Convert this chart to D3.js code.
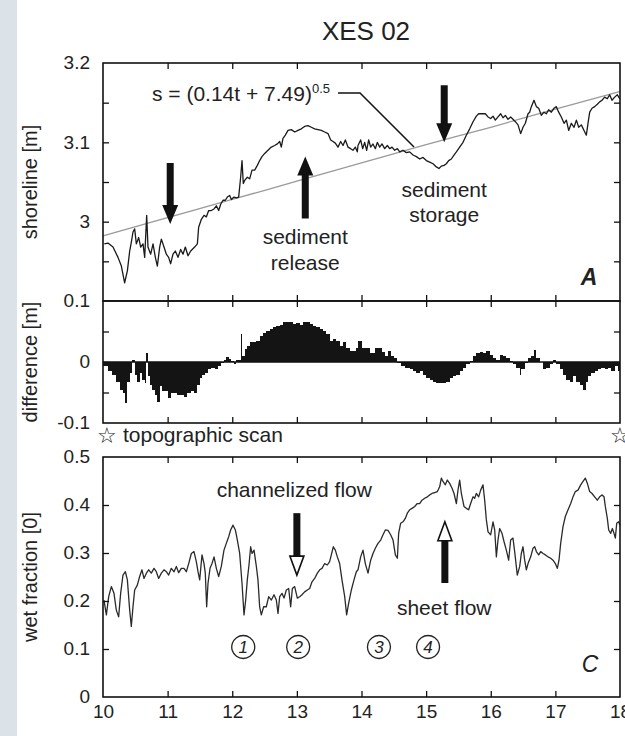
<!DOCTYPE html>
<html><head><meta charset="utf-8">
<script src="https://cdn.jsdelivr.net/npm/d3@7"></script>
<style>
body{margin:0;background:#fff}
svg{display:block}
text{font-family:"Liberation Sans",Arial,Helvetica,sans-serif;fill:#222}
</style>
</head><body>
<svg id="chart" width="625" height="736"></svg>
<script>
// ---------- DATA ----------
const xTickValues = [10,11,12,13,14,15,16,17,18];
const xTickLabels = ["10","11","12","13","14","15","16","17","18"];

const shoreTickValues = [3.2,3.1,3.0];
const shoreTickLabels = ["3.2","3.1","3"];
const shoreMinorTicks = [3.15,3.1,3.05,3.0,2.95];

const diffTickValues = [0.1,0,-0.1];
const diffTickLabels = ["0.1","0","-0.1"];
const diffMinorTicks = [0.05,0,-0.05];

const wetTickValues = [0.5,0.4,0.3,0.2,0.1,0];
const wetTickLabels = ["0.5","0.4","0.3","0.2","0.1","0"];

// shoreline position [m] vs time
const shoreT = [10.02,10.077,10.155,10.232,10.284,10.335,10.377,10.413,10.438,10.464,10.490,10.516,10.552,10.583,10.619,10.645,10.676,10.696,10.738,10.774,10.810,10.841,10.877,10.903,10.944,10.980,11.016,11.047,11.083,11.119,11.161,11.202,11.238,11.274,11.315,11.357,11.418,11.460,11.480,11.522,11.563,11.599,11.635,11.676,11.718,11.754,11.790,11.821,11.857,11.893,11.924,11.960,11.986,12.027,12.063,12.099,12.130,12.151,12.171,12.192,12.233,12.269,12.306,12.347,12.388,12.424,12.460,12.502,12.553,12.605,12.656,12.698,12.734,12.759,12.785,12.821,12.863,12.914,12.966,13.017,13.069,13.120,13.172,13.224,13.275,13.327,13.378,13.430,13.482,13.523,13.559,13.595,13.636,13.678,13.714,13.750,13.791,13.832,13.868,13.904,13.935,
13.946,13.987,14.018,14.049,14.080,14.111,14.142,14.178,14.214,14.245,14.281,14.317,14.359,14.400,14.436,14.472,14.513,14.555,14.591,14.642,14.694,14.745,14.797,14.849,14.900,14.952,15.003,15.055,15.107,15.158,15.199,15.235,15.277,15.313,15.349,15.390,15.431,15.468,15.519,15.571,15.622,15.674,15.726,15.777,15.813,15.865,15.916,15.958,15.999,16.035,16.071,16.112,16.154,16.190,16.226,16.267,16.308,16.344,16.381,16.422,16.463,16.499,16.535,16.577,16.602,16.628,16.669,16.706,16.742,16.783,16.824,16.860,16.896,16.938,16.979,17.015,17.051,17.092,17.134,17.170,17.206,17.247,17.289,17.325,17.361,17.402,17.443,17.479,17.505,17.531,17.567,17.608,17.649,17.685,17.722,17.763,17.804,17.840,17.876,17.918,17.959,17.995];
const shoreV = [2.972,2.973,2.968,2.955,2.944,2.923,2.938,2.963,2.974,2.987,2.991,2.972,2.980,2.968,2.972,2.955,3.008,2.968,2.959,2.972,2.955,2.944,2.968,2.978,2.968,2.959,2.955,2.947,2.959,2.963,2.955,2.965,2.959,2.968,2.957,2.963,2.968,2.972,2.993,3.003,3.008,3.006,3.014,3.014,3.016,3.020,3.014,3.022,3.027,3.027,3.031,3.033,3.028,3.031,3.030,3.031,3.056,3.077,3.048,3.052,3.056,3.054,3.065,3.065,3.071,3.077,3.082,3.086,3.090,3.094,3.096,3.098,3.101,3.094,3.105,3.109,3.115,3.116,3.113,3.115,3.117,3.120,3.121,3.119,3.117,3.116,3.115,3.113,3.111,3.103,3.101,3.099,3.094,3.101,3.096,3.103,3.094,3.092,3.090,3.094,3.088,
3.096,3.103,3.092,3.100,3.090,3.103,3.094,3.098,3.092,3.100,3.094,3.098,3.092,3.096,3.092,3.094,3.090,3.092,3.088,3.090,3.087,3.088,3.084,3.082,3.079,3.081,3.077,3.075,3.073,3.069,3.067,3.070,3.071,3.073,3.077,3.079,3.084,3.088,3.094,3.100,3.109,3.117,3.126,3.133,3.136,3.136,3.136,3.132,3.130,3.133,3.128,3.132,3.136,3.131,3.134,3.129,3.132,3.129,3.126,3.122,3.111,3.119,3.124,3.136,3.138,3.145,3.153,3.145,3.143,3.134,3.138,3.136,3.141,3.138,3.143,3.145,3.138,3.132,3.124,3.128,3.115,3.124,3.119,3.128,3.119,3.122,3.115,3.109,3.124,3.138,3.143,3.145,3.148,3.151,3.153,3.157,3.155,3.160,3.153,3.157,3.160,3.155];

// fitted curve s = (0.14t + 7.49)^0.5, read at whole hours
const fitT = [10,11,12,13,14,15,16,17,18];
const fitV = [2.982,3.005,3.028,3.051,3.074,3.097,3.119,3.142,3.164];

// difference [m] bars (left edge time, value)
const diffT = [10.0,10.077,10.139,10.206,10.258,10.309,10.346,10.377,10.413,10.449,10.490,10.531,10.567,10.603,10.645,10.671,10.696,10.722,10.758,10.799,10.841,10.877,10.913,10.954,11.006,11.047,11.099,11.150,11.202,11.253,11.305,11.357,11.408,11.460,11.496,11.532,11.573,11.625,11.676,11.728,11.780,11.831,11.872,11.908,11.945,11.986,12.027,12.063,12.099,12.130,12.151,12.192,12.233,12.269,12.321,12.373,12.424,12.476,12.527,12.579,12.631,12.682,12.734,12.785,12.837,12.889,12.940,12.992,13.043,13.095,13.146,13.198,13.250,13.301,13.353,13.404,13.456,13.507,13.559,13.611,13.662,13.714,13.765,13.817,13.869,13.920,
13.946,14.008,14.049,14.127,14.204,14.266,14.317,14.359,14.410,14.451,14.503,14.555,14.606,14.668,14.745,14.797,14.849,14.900,14.952,15.003,15.055,15.107,15.158,15.210,15.261,15.313,15.364,15.416,15.468,15.519,15.571,15.622,15.674,15.726,15.777,15.829,15.880,15.932,15.983,16.035,16.087,16.138,16.190,16.241,16.293,16.344,16.396,16.448,16.473,16.525,16.577,16.618,16.669,16.706,16.757,16.809,16.860,16.912,16.963,17.015,17.067,17.118,17.170,17.221,17.273,17.325,17.376,17.428,17.479,17.505,17.557,17.608,17.660,17.711,17.763,17.815,17.866,17.918,17.969];
const diffV = [-0.007,-0.015,-0.021,-0.032,-0.046,-0.051,-0.068,-0.032,-0.018,0.004,-0.021,-0.032,-0.018,-0.029,-0.034,0.014,-0.023,-0.037,-0.046,-0.054,-0.065,-0.040,-0.048,-0.048,-0.059,-0.051,-0.051,-0.054,-0.054,-0.058,-0.051,-0.048,-0.050,-0.037,-0.026,-0.021,-0.018,-0.012,-0.010,-0.012,-0.007,-0.001,0.004,0.008,0.005,0.001,-0.003,0.004,0.004,0.046,0.010,0.021,0.026,0.032,0.032,0.034,0.043,0.048,0.051,0.054,0.057,0.059,0.060,0.065,0.066,0.065,0.062,0.064,0.060,0.065,0.066,0.062,0.059,0.057,0.054,0.051,0.046,0.034,0.037,0.034,0.026,0.032,0.023,0.018,0.018,0.023,
0.034,0.023,0.023,0.015,0.023,0.023,0.016,0.010,0.018,0.010,0.007,-0.001,-0.007,-0.010,-0.012,-0.015,-0.018,-0.015,-0.021,-0.026,-0.029,-0.032,-0.034,-0.034,-0.034,-0.032,-0.026,-0.023,-0.021,-0.015,-0.010,-0.004,0.001,0.010,0.015,0.016,0.014,0.018,0.012,0.007,0.004,0.012,0.010,0.007,0.001,-0.004,-0.010,-0.021,-0.012,-0.001,0.007,0.010,0.020,0.007,0.000,-0.012,-0.010,-0.004,0.003,-0.004,-0.012,-0.021,-0.029,-0.032,-0.023,-0.032,-0.037,-0.046,-0.032,-0.023,-0.018,-0.015,-0.012,-0.010,-0.012,-0.010,-0.015,-0.007,-0.015];

// wet fraction vs time
const wetT = [10.015,10.052,10.088,10.129,10.170,10.206,10.242,10.273,10.309,10.346,10.377,10.413,10.438,10.464,10.490,10.531,10.567,10.603,10.634,10.671,10.707,10.748,10.789,10.825,10.861,10.903,10.944,10.980,11.016,11.057,11.099,11.135,11.171,11.212,11.253,11.289,11.326,11.367,11.408,11.444,11.470,11.496,11.532,11.563,11.583,11.604,11.625,11.656,11.687,11.718,11.754,11.790,11.831,11.872,11.908,11.945,11.975,12.012,12.048,12.079,12.115,12.151,12.182,12.208,12.233,12.259,12.285,12.306,12.337,12.373,12.398,12.424,12.450,12.486,12.527,12.564,12.605,12.646,12.682,12.708,12.734,12.770,12.801,12.837,12.873,12.904,12.930,12.966,13.007,13.043,13.079,13.120,13.162,13.198,13.234,13.275,13.317,13.353,13.389,13.430,13.471,13.507,13.533,13.564,13.595,13.626,13.662,13.698,13.740,13.770,13.801,13.843,13.884,13.920,
13.946,13.987,14.023,14.059,14.101,14.142,14.178,14.214,14.255,14.297,14.333,14.369,14.410,14.451,14.488,14.524,14.555,14.575,14.606,14.642,14.678,14.709,14.745,14.782,14.823,14.864,14.900,14.936,14.978,15.019,15.055,15.091,15.132,15.174,15.210,15.235,15.261,15.297,15.328,15.364,15.401,15.432,15.468,15.493,15.519,15.545,15.586,15.622,15.658,15.689,15.726,15.751,15.777,15.813,15.844,15.880,15.906,15.932,15.958,15.999,16.035,16.061,16.087,16.112,16.138,16.174,16.205,16.241,16.277,16.308,16.344,16.370,16.411,16.448,16.473,16.499,16.525,16.551,16.577,16.618,16.654,16.680,16.706,16.742,16.773,16.809,16.845,16.886,16.927,16.963,16.999,17.030,17.056,17.082,17.118,17.154,17.196,17.237,17.273,17.309,17.350,17.392,17.428,17.464,17.495,17.531,17.567,17.608,17.649,17.685,17.722,17.753,17.773,17.804,17.825,17.856,17.882,17.907,17.928,17.949,17.979,18.0];
const wetV = [0.202,0.171,0.209,0.230,0.216,0.181,0.167,0.216,0.254,0.261,0.244,0.181,0.147,0.188,0.223,0.233,0.251,0.265,0.247,0.258,0.265,0.258,0.268,0.261,0.247,0.258,0.265,0.261,0.254,0.268,0.261,0.272,0.259,0.268,0.268,0.261,0.278,0.299,0.303,0.282,0.261,0.244,0.296,0.278,0.258,0.188,0.237,0.268,0.278,0.292,0.268,0.251,0.272,0.306,0.320,0.334,0.348,0.358,0.348,0.327,0.299,0.237,0.171,0.202,0.244,0.275,0.313,0.299,0.306,0.272,0.244,0.188,0.171,0.188,0.188,0.209,0.202,0.213,0.202,0.174,0.209,0.216,0.206,0.223,0.226,0.188,0.226,0.230,0.206,0.209,0.213,0.219,0.223,0.226,0.240,0.247,0.258,0.265,0.268,0.278,0.275,0.282,0.296,0.313,0.306,0.292,0.278,0.244,0.209,0.171,0.195,0.223,0.244,0.261,
0.265,0.292,0.306,0.278,0.258,0.285,0.299,0.310,0.320,0.327,0.338,0.348,0.347,0.338,0.327,0.296,0.289,0.341,0.362,0.365,0.372,0.383,0.390,0.393,0.397,0.403,0.403,0.410,0.414,0.417,0.421,0.424,0.426,0.428,0.438,0.456,0.449,0.442,0.452,0.445,0.435,0.424,0.403,0.431,0.452,0.424,0.397,0.393,0.390,0.403,0.417,0.414,0.424,0.417,0.431,0.442,0.410,0.369,0.344,0.338,0.365,0.348,0.292,0.327,0.351,0.341,0.324,0.306,0.285,0.327,0.331,0.303,0.254,0.272,0.299,0.313,0.285,0.265,0.278,0.292,0.310,0.313,0.303,0.296,0.303,0.299,0.296,0.292,0.289,0.285,0.278,0.268,0.285,0.320,0.355,0.376,0.390,0.403,0.417,0.428,0.431,0.442,0.449,0.456,0.445,0.428,0.424,0.417,0.410,0.417,0.421,0.417,0.397,0.372,0.348,0.341,0.351,0.341,0.331,0.362,0.365,0.358];

const circledNumbers = ["1","2","3","4"];
const circledTimes = [12.17,13.02,14.27,15.03];

// ---------- DRAWING ----------
const svg = d3.select("#chart");
const L = 103, R = 620;
const x = d3.scaleLinear().domain([10,18]).range([L,R]);
const yA = d3.scaleLinear().domain([2.9,3.2]).range([301,63]);
const yB = d3.scaleLinear().domain([-0.1,0.1]).range([423,301]);
const yC = d3.scaleLinear().domain([0,0.5]).range([697,457]);

// page background (scanned page edge)
svg.append("rect").attr("width",625).attr("height",736).attr("fill","#ffffff");
svg.append("rect").attr("x",0).attr("y",0).attr("width",17).attr("height",736).attr("fill","#dbe2e8");

const TICK = 6;
function frame(yScale, top, bottom, leftTicks, leftLabels, minor) {
  const g = svg.append("g");
  g.append("g").attr("transform",`translate(0,${top})`)
    .call(d3.axisTop(x).tickValues(xTickValues.slice(1,-1)).tickSizeInner(-TICK).tickSizeOuter(0).tickFormat(""));
  g.append("g").attr("transform",`translate(0,${bottom})`)
    .call(d3.axisBottom(x).tickValues(xTickValues.slice(1,-1)).tickSizeInner(-TICK).tickSizeOuter(0).tickFormat(""));
  g.append("g").attr("transform",`translate(${L},0)`)
    .call(d3.axisLeft(yScale).tickValues(minor).tickSizeInner(-TICK).tickSizeOuter(0).tickFormat(""));
  g.append("g").attr("transform",`translate(${R},0)`)
    .call(d3.axisRight(yScale).tickValues(minor).tickSizeInner(-TICK).tickSizeOuter(0).tickFormat(""));
  if (leftTicks) {
    g.append("g").attr("transform",`translate(${L},0)`)
      .call(d3.axisLeft(yScale).tickValues(leftTicks).tickSize(0).tickPadding(13)
        .tickFormat((d,i)=>leftLabels[i]));
  }
  g.selectAll(".domain").remove();
  g.selectAll(".tick line").attr("stroke","#111").attr("stroke-width",1.3);
  g.selectAll(".tick text").attr("font-size",19).attr("fill","#222")
    .attr("font-family",'"Liberation Sans",Arial,sans-serif').attr("dy","0.3em");
  svg.append("rect").attr("x",L).attr("y",top).attr("width",R-L).attr("height",bottom-top)
    .attr("fill","none").attr("stroke","#111").attr("stroke-width",1.6);
}

// ---- Panel A ----
svg.append("path").datum(fitT.map((t,i)=>[t,fitV[i]]))
  .attr("d",d3.line().x(d=>x(d[0])).y(d=>yA(d[1])).curve(d3.curveMonotoneX))
  .attr("fill","none").attr("stroke","#9a9a9a").attr("stroke-width",1.3);
svg.append("path").datum(shoreT.map((t,i)=>[t,shoreV[i]]))
  .attr("d",d3.line().x(d=>x(d[0])).y(d=>yA(d[1]))).attr("fill","none").attr("stroke","#1a1a1a").attr("stroke-width",1.3).attr("stroke-linejoin","round");

// ---- Panel B ----
const bars = svg.append("g");
diffT.forEach((t,i)=>{
  const t1 = i < diffT.length-1 ? diffT[i+1] : 18;
  const v = diffV[i];
  bars.append("rect")
    .attr("x",x(t)).attr("width",x(t1)-x(t))
    .attr("y",yB(Math.max(0,v))).attr("height",Math.abs(yB(v)-yB(0)))
    .attr("fill","#141414").attr("shape-rendering","crispEdges");
});
svg.append("line").attr("x1",L).attr("x2",R).attr("y1",yB(0)).attr("y2",yB(0)).attr("stroke","#111").attr("stroke-width",1.3);

// ---- Panel C ----
svg.append("path").datum(wetT.map((t,i)=>[t,wetV[i]]))
  .attr("d",d3.line().x(d=>x(d[0])).y(d=>yC(d[1]))).attr("fill","none").attr("stroke","#2a2a2a").attr("stroke-width",1.3).attr("stroke-linejoin","round");

frame(yA, 63, 301, shoreTickValues, shoreTickLabels, shoreMinorTicks);
frame(yB, 301, 423, diffTickValues, diffTickLabels, diffMinorTicks);
frame(yC, 457, 697, wetTickValues, wetTickLabels, [0.1,0.2,0.3,0.4]);

// x axis labels
const xa = svg.append("g").attr("transform",`translate(0,697)`)
  .call(d3.axisBottom(x).tickValues(xTickValues).tickSize(0).tickPadding(8).tickFormat((d,i)=>xTickLabels[i]));
xa.select(".domain").remove();
xa.selectAll("text").attr("font-size",19).attr("fill","#222").attr("font-family",'"Liberation Sans",Arial,sans-serif');

// ---- Titles ----
svg.append("text").attr("x",366).attr("y",40).attr("text-anchor","middle").attr("font-size",26).text("XES 02");
function ytitle(txt, cy){
  svg.append("text").attr("transform",`translate(37,${cy}) rotate(-90)`).attr("text-anchor","middle")
    .attr("font-size",20).attr("fill","#444").text(txt);
}
ytitle("shoreline [m]", 182);
ytitle("difference [m]", 362);
ytitle("wet fraction [0]", 577);

// ---- Arrows ----
function arrow(cx, yStart, yTip, hollow){
  const sw = 7, hw = 16, hl = 19;
  const s = yTip > yStart ? 1 : -1;
  const yh = yTip - s*hl;
  if (!hollow){
    const p = d3.path();
    p.moveTo(cx-sw/2,yStart); p.lineTo(cx+sw/2,yStart); p.lineTo(cx+sw/2,yh); p.lineTo(cx+hw/2,yh);
    p.lineTo(cx,yTip); p.lineTo(cx-hw/2,yh); p.lineTo(cx-sw/2,yh); p.closePath();
    svg.append("path").attr("d",p.toString()).attr("fill","#111");
  } else {
    svg.append("rect").attr("x",cx-sw/2).attr("width",sw).attr("y",Math.min(yStart,yh)).attr("height",Math.abs(yh-yStart)).attr("fill","#111");
    const p = d3.path();
    p.moveTo(cx-hw/2+1,yh); p.lineTo(cx+hw/2-1,yh); p.lineTo(cx,yTip); p.closePath();
    svg.append("path").attr("d",p.toString()).attr("fill","#fff").attr("stroke","#111").attr("stroke-width",1.6).attr("stroke-linejoin","miter");
  }
}
arrow(x(11.04), yA(3.074), yA(2.997), false);
arrow(x(13.13), yA(3.004), yA(3.082), false);
arrow(x(15.28), yA(3.172), yA(3.100), false);
arrow(x(13.0), yC(0.383), yC(0.254), true);
arrow(x(15.29), yC(0.2375), yC(0.365), true);

// ---- annotation texts ----
function label(txt, xx, yy, size, anchor){
  return svg.append("text").attr("x",xx).attr("y",yy).attr("text-anchor",anchor||"middle").attr("font-size",size||21).text(txt);
}
label("sediment", x(13.13), 244); label("release", x(13.13), 270);
label("sediment", x(15.28), 197); label("storage", x(15.28), 222);
label("channelized flow", x(12.96), 497);
label("sheet flow", x(15.28), 615);

// formula
const f = svg.append("text").attr("x",152).attr("y",101).attr("font-size",21);
f.append("tspan").text("s = (0.14t + 7.49)");
f.append("tspan").attr("font-size",13).attr("dy",-8).text("0.5");
svg.append("path").attr("d",`M338,93 L360,93 L414,147`).attr("fill","none").attr("stroke","#111").attr("stroke-width",1.5);

// panel letters
svg.append("text").attr("x",589).attr("y",285).attr("text-anchor","middle").attr("font-size",23).attr("font-weight","bold").attr("font-style","italic").text("A");
svg.append("text").attr("x",590).attr("y",672).attr("text-anchor","middle").attr("font-size",23).attr("font-style","italic").text("C");

// topographic scan stars
svg.append("text").attr("x",107).attr("y",443).attr("text-anchor","middle").attr("font-size",22)
  .attr("font-family","DejaVu Sans").text("☆");
svg.append("text").attr("x",123).attr("y",442).attr("font-size",21).text("topographic scan");
svg.append("text").attr("x",620).attr("y",443).attr("text-anchor","middle").attr("font-size",22)
  .attr("font-family","DejaVu Sans").text("☆");

// circled numbers
const scallop = d3.lineRadial().curve(d3.curveCardinalClosed.tension(0.2));
circledNumbers.forEach((n,i)=>{
  const cx = x(circledTimes[i]), cy = 647;
  const pts = d3.range(10).map(k=>[k*2*Math.PI/10, 11.5]);
  svg.append("path").attr("transform",`translate(${cx},${cy})`).attr("d",scallop(pts))
    .attr("fill","none").attr("stroke","#222").attr("stroke-width",1.3);
  svg.append("text").attr("x",cx).attr("y",cy+6).attr("text-anchor","middle").attr("font-size",17)
    .attr("font-style","italic").text(n);
});
</script>
</body></html>
